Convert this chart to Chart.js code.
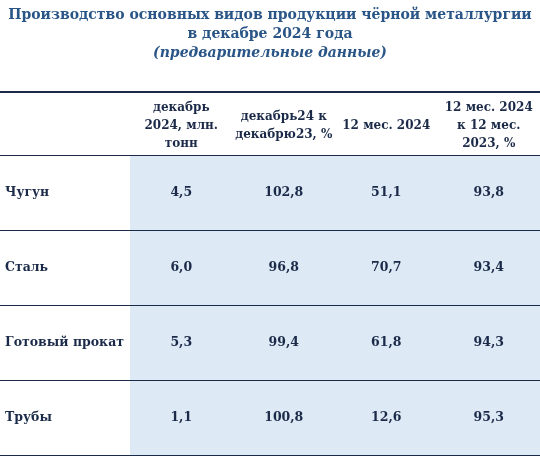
<!DOCTYPE html>
<html><head><meta charset="utf-8">
<script src="https://cdn.jsdelivr.net/npm/chart.js@4"></script>
<style>body{margin:0;background:#fff}#wrap{width:540px;height:459px}</style>
</head><body><div id="wrap"><canvas id="c"></canvas></div>
<script>
const titleLines = ["Производство основных видов продукции чёрной металлургии", "в декабре 2024 года", "(предварительные данные)"];
const columns = ["dec", "decPct", "year", "yearPct"];
const headers = [["декабрь", "2024, млн.", "тонн"], ["декабрь24 к", "декабрю23, %"], ["12 мес. 2024"], ["12 мес. 2024", "к 12 мес.", "2023, %"]];
const products = ["Чугун", "Сталь", "Готовый прокат", "Трубы"];
const dec2024 = ["4,5", "6,0", "5,3", "1,1"];
const decPct = ["102,8", "96,8", "99,4", "100,8"];
const year2024 = ["51,1", "70,7", "61,8", "12,6"];
const yearPct = ["93,8", "93,4", "94,3", "95,3"];
const values = [dec2024, decPct, year2024, yearPct];

const ink = "#1b2a48";
const serif = "'DejaVu Serif', 'Liberation Serif', serif";

const tablePlugin = {
  id: "table",
  beforeDraw(chart) {
    const { ctx, chartArea: a, scales: { x, y } } = chart;
    ctx.save();
    ctx.fillStyle = "#dde9f5";
    ctx.fillRect(a.left, a.top, a.right - a.left, a.bottom - a.top);
    ctx.restore();
  },
  afterDraw(chart) {
    const { ctx, chartArea: a, scales: { x, y } } = chart;
    const W = chart.width;
    ctx.save();
    // title
    ctx.fillStyle = "#2a5587";
    ctx.textAlign = "center";
    ctx.textBaseline = "middle";
    titleLines.forEach((t, i) => {
      ctx.font = (i === 2 ? "italic bold " : "bold ") + "14px " + serif;
      ctx.fillText(t, W / 2, 15 + i * 19);
    });
    // lines
    ctx.strokeStyle = ink;
    ctx.lineWidth = 2;
    ctx.beginPath(); ctx.moveTo(0, 92); ctx.lineTo(W, 92); ctx.stroke();
    ctx.lineWidth = 1;
    const step = (y.bottom - y.top) / products.length;
    for (let i = 0; i <= products.length; i++) {
      const yy = Math.round(y.top + i * step) + 0.5;
      ctx.beginPath(); ctx.moveTo(0, yy); ctx.lineTo(W, yy); ctx.stroke();
    }
    // headers
    ctx.fillStyle = ink;
    ctx.font = "bold 12px " + serif;
    columns.forEach((c, j) => {
      const cx = x.getPixelForValue(j);
      const h = headers[j];
      h.forEach((t, k) => ctx.fillText(t, cx, 126 + (k - (h.length - 1) / 2) * 18));
    });
    // body
    ctx.font = "bold 12.5px " + serif;
    products.forEach((p, i) => {
      const cy = y.getPixelForValue(i);
      ctx.textAlign = "left";
      ctx.fillText(p, 5, cy);
      ctx.textAlign = "center";
      values.forEach((col, j) => ctx.fillText(col[i], x.getPixelForValue(j), cy));
    });
    ctx.restore();
  }
};

new Chart(document.getElementById("c"), {
  type: "bar",
  data: { labels: columns, datasets: [{ data: [], backgroundColor: "transparent" }] },
  options: {
    responsive: true, maintainAspectRatio: false, animation: false,
    layout: { padding: { top: 155, left: 130, right: 0, bottom: 4 } },
    plugins: { legend: { display: false }, tooltip: { enabled: false } },
    scales: {
      x: { type: "category", labels: columns, display: false, offset: true },
      y: { type: "category", labels: products, display: false, offset: true }
    }
  },
  plugins: [tablePlugin]
});
</script></body></html>
